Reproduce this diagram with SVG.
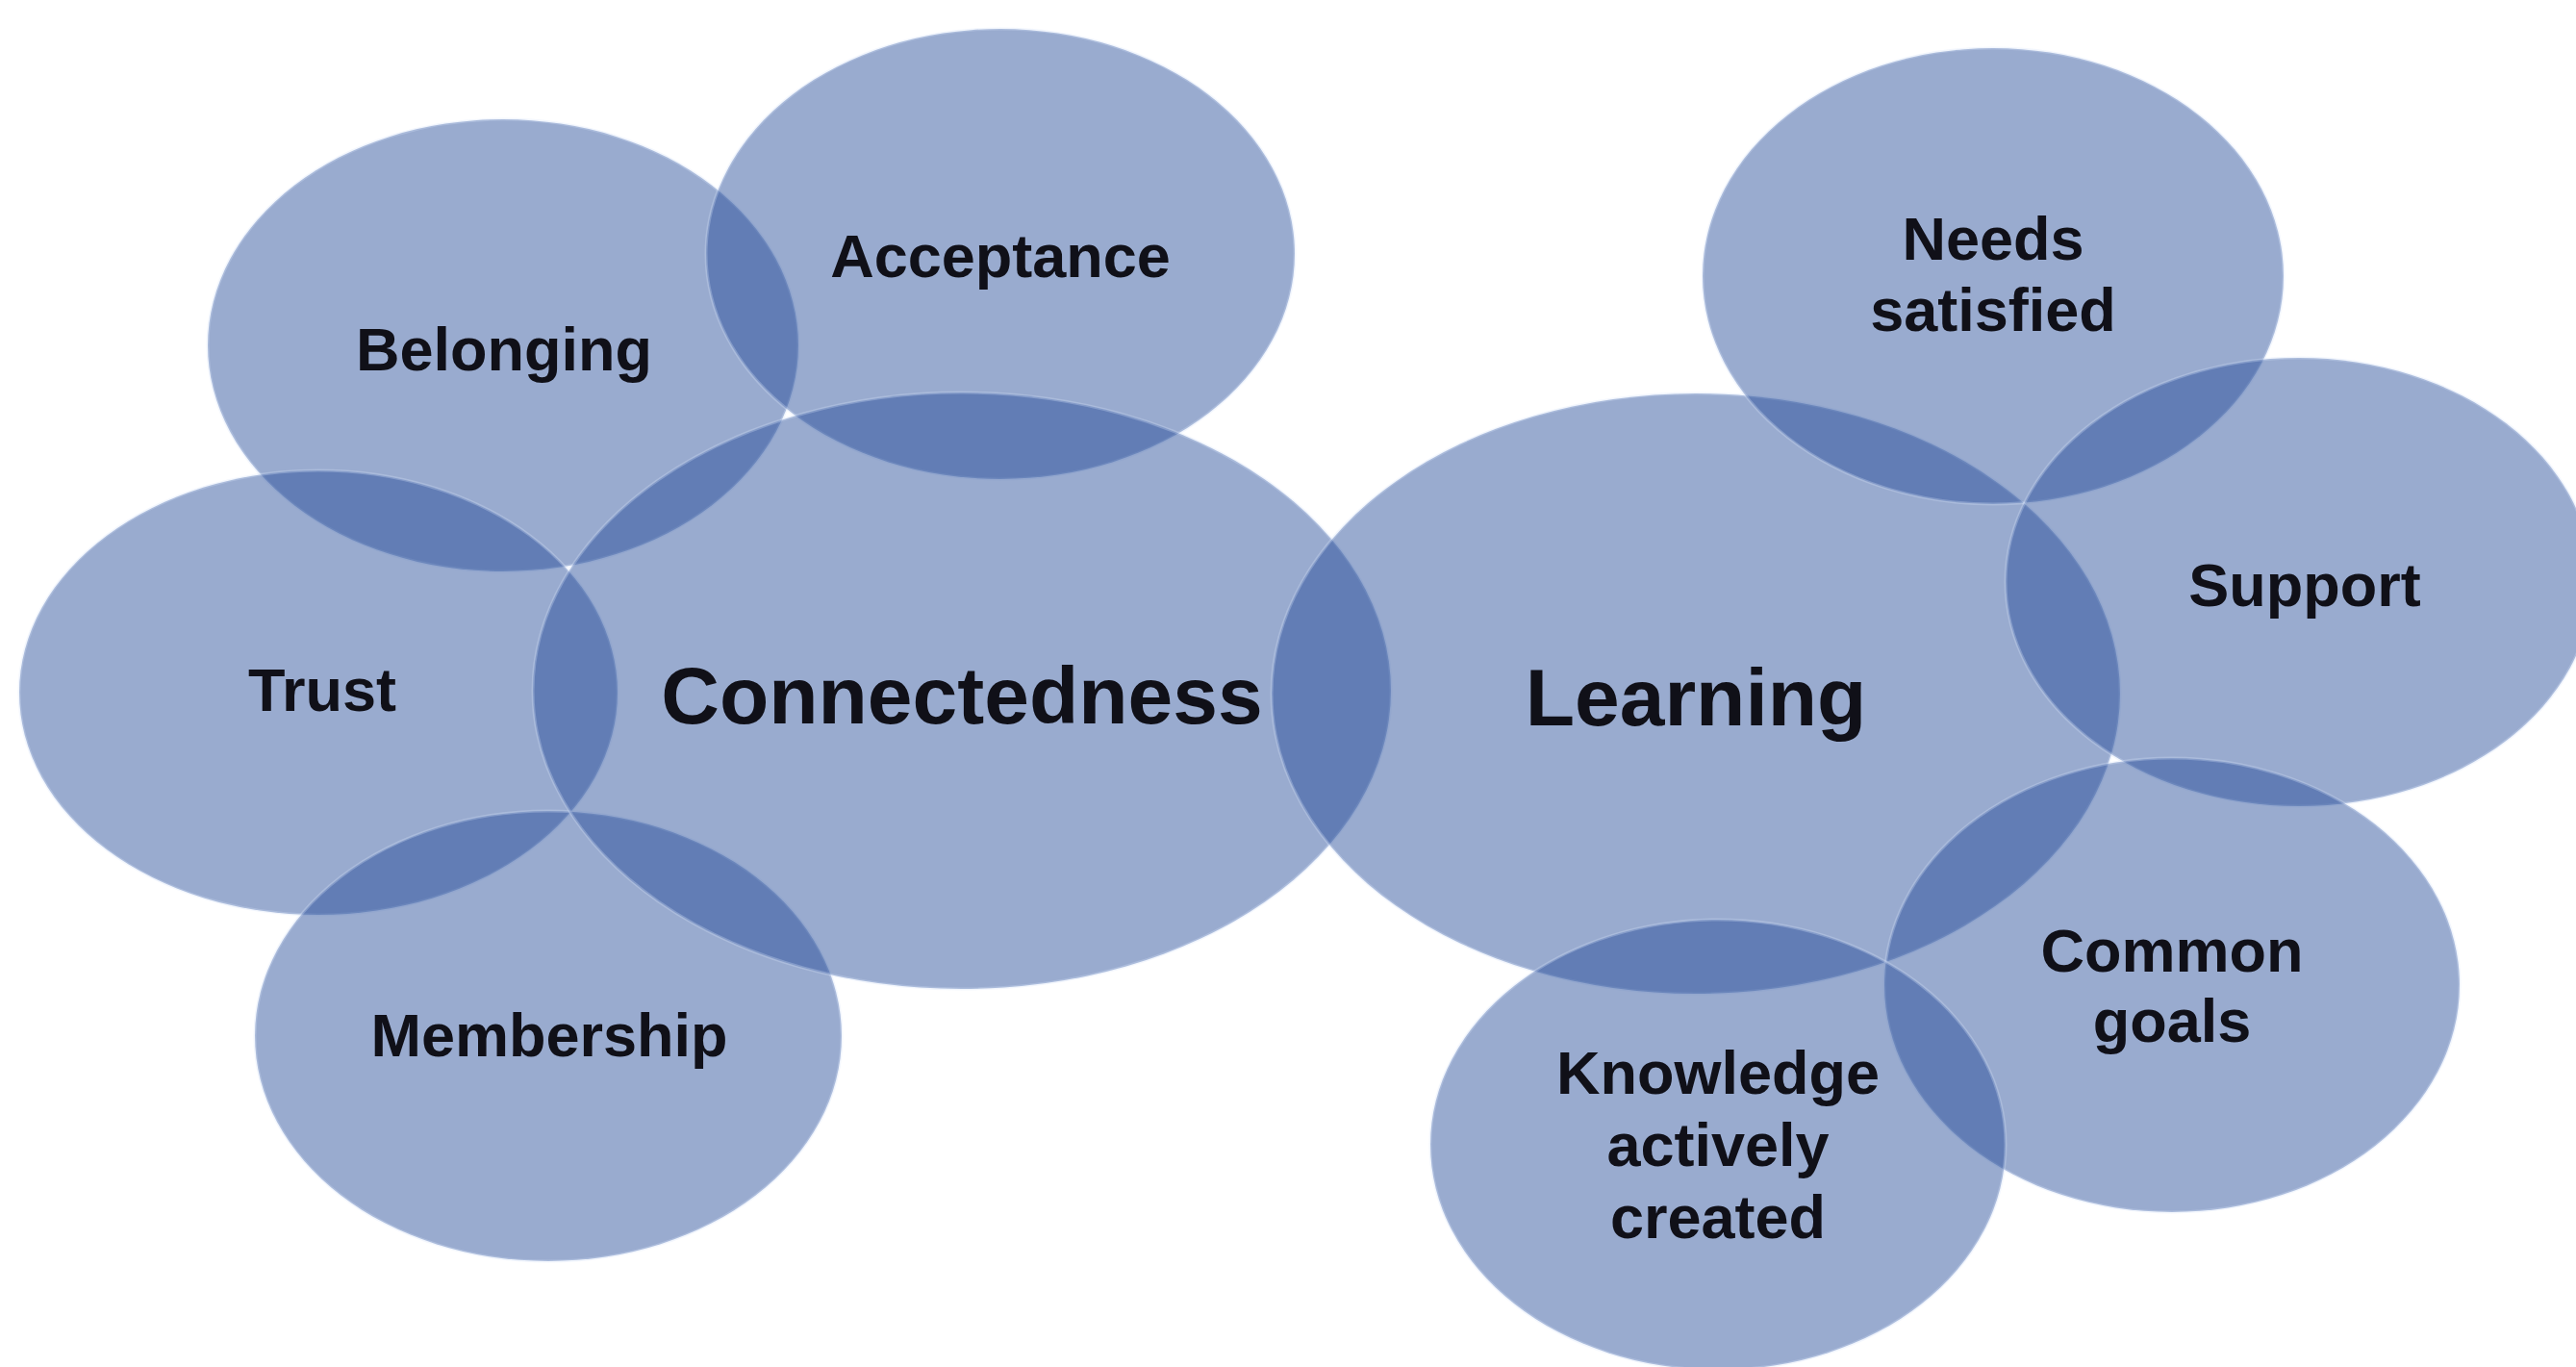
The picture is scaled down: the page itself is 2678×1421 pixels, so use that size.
<svg xmlns="http://www.w3.org/2000/svg" width="2678" height="1421" viewBox="0 0 2678 1421">
<style>
.c{fill:#214897;fill-opacity:0.46;stroke:#d4e0f7;stroke-opacity:0.3;stroke-width:3}
.t{font-family:"Liberation Sans",Arial,sans-serif;font-weight:bold;fill:#101018;text-anchor:middle;font-size:63px}
.big{font-size:84px}
</style>
<rect width="2678" height="1421" fill="#ffffff"/>
<g id="connectors"/>
<g id="belonging"><ellipse class="c" cx="523" cy="359" rx="307" ry="235"/><text class="t" x="524" y="385">Belonging</text></g>
<g id="acceptance"><ellipse class="c" cx="1040" cy="264" rx="306" ry="234"/><text class="t" x="1040" y="288">Acceptance</text></g>
<g id="trust"><ellipse class="c" cx="331" cy="720" rx="311" ry="231"/><text class="t" x="335" y="739">Trust</text></g>
<g id="membership"><ellipse class="c" cx="570" cy="1077" rx="305" ry="234"/><text class="t" x="571" y="1098">Membership</text></g>
<g id="connectedness"><ellipse class="c" cx="1000" cy="718" rx="446" ry="310"/><text class="t big" x="1000" y="752">Connectedness</text></g>
<g id="learning"><ellipse class="c" cx="1763" cy="721" rx="441" ry="312"/><text class="t big" x="1763" y="754">Learning</text></g>
<g id="needs-satisfied"><ellipse class="c" cx="2072" cy="287" rx="302" ry="237"/><text class="t" x="2072" y="270">Needs</text><text class="t" x="2072" y="344">satisfied</text></g>
<g id="support"><ellipse class="c" cx="2390" cy="605" rx="305" ry="233"/><text class="t" x="2396" y="630">Support</text></g>
<g id="common-goals"><ellipse class="c" cx="2258" cy="1024" rx="299" ry="236"/><text class="t" x="2258" y="1010">Common</text><text class="t" x="2258" y="1083">goals</text></g>
<g id="knowledge"><ellipse class="c" cx="1786" cy="1190" rx="299" ry="234"/><text class="t" x="1786" y="1137">Knowledge</text><text class="t" x="1786" y="1212">actively</text><text class="t" x="1786" y="1287">created</text></g>
</svg>
